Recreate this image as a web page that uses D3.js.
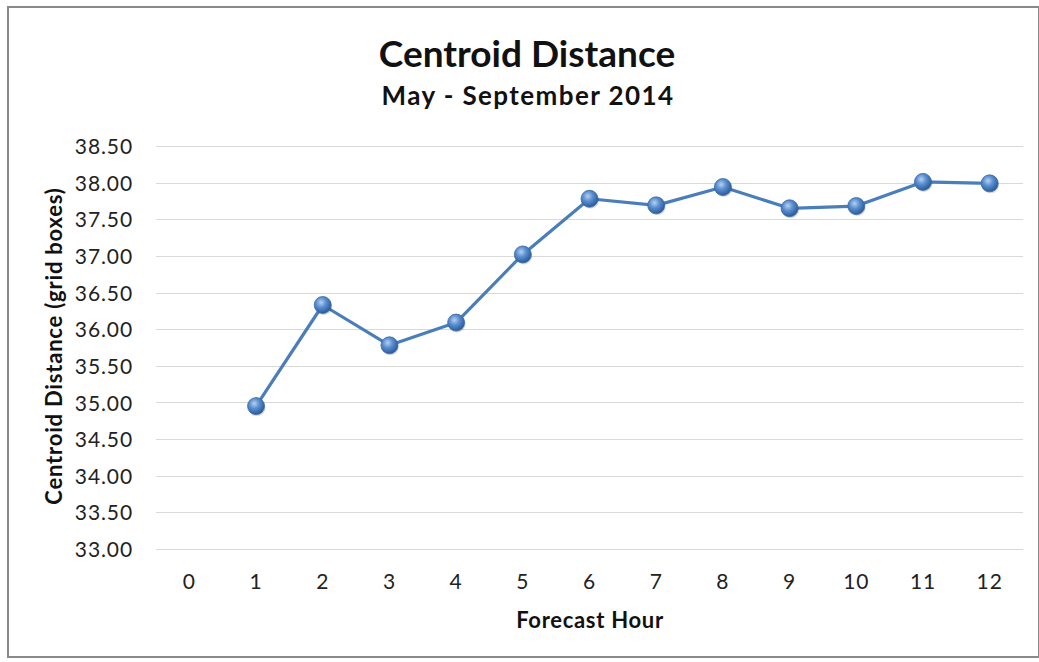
<!DOCTYPE html>
<html>
<head>
<meta charset="utf-8">
<script src="https://cdn.jsdelivr.net/npm/d3@7"></script>
<style>
  body { margin: 0; background: #fff; }
  svg { display: block; font-family: Lato, "Open Sans", sans-serif; }
</style>
</head>
<body>
<div id="chart"></div>
<script>
const width = 1039,
  height = 662,
  margin = { top: 146, right: 16, bottom: 113, left: 156 };

// chart data
const hours = [0, 1, 2, 3, 4, 5, 6, 7, 8, 9, 10, 11, 12];
const distance = [null, 34.95, 36.33, 35.78, 36.09, 37.02, 37.78, 37.69, 37.94, 37.65, 37.68, 38.01, 37.99];
const yTicks = [33.0, 33.5, 34.0, 34.5, 35.0, 35.5, 36.0, 36.5, 37.0, 37.5, 38.0, 38.5];

const title = 'Centroid Distance';
const subtitle = 'May - September 2014';
const xTitle = 'Forecast Hour';
const yTitle = 'Centroid Distance (grid boxes)';

const svg = d3.select('#chart')
  .append('svg')
  .attr('width', width)
  .attr('height', height);

// marker gradient
const defs = svg.append('defs');
const grad = defs.append('radialGradient')
  .attr('id', 'ball')
  .attr('cx', '40%').attr('cy', '35%').attr('r', '65%');
grad.append('stop').attr('offset', '0%').attr('stop-color', '#b7d0f0');
grad.append('stop').attr('offset', '45%').attr('stop-color', '#5a8fd0');
grad.append('stop').attr('offset', '100%').attr('stop-color', '#2a5a98');

// outer frame
svg.append('rect')
  .attr('x', 8).attr('y', 7)
  .attr('width', width - 8).attr('height', 650)
  .attr('fill', 'none')
  .attr('stroke', '#8a8a8a')
  .attr('stroke-width', 2);

const x = d3.scaleBand()
  .domain(hours)
  .range([margin.left, width - margin.right]);

const y = d3.scaleLinear()
  .domain([33, 38.5])
  .range([height - margin.bottom, margin.top]);

// gridlines
svg.append('g')
  .selectAll('line')
  .data(yTicks)
  .join('line')
  .attr('x1', margin.left)
  .attr('x2', width - margin.right)
  .attr('y1', d => Math.round(y(d)) + 0.5)
  .attr('y2', d => Math.round(y(d)) + 0.5)
  .attr('stroke', '#d9d9d9')
  .attr('stroke-width', 1.2);

// y axis labels
const yAxis = svg.append('g')
  .attr('transform', `translate(${margin.left - 23},0)`)
  .call(d3.axisLeft(y).tickValues(yTicks).tickFormat(d3.format('.2f')).tickSize(0).tickPadding(0));
yAxis.select('.domain').remove();
yAxis.selectAll('text')
  .attr('font-size', 21)
  .attr('letter-spacing', 0.9)
  .attr('dy', '0.36em')
  .attr('font-family', 'Lato, "Open Sans", sans-serif')
  .attr('fill', '#222');

// x axis labels
const xAxis = svg.append('g')
  .attr('transform', `translate(0,${height - margin.bottom + 40})`)
  .call(d3.axisBottom(x).tickSize(0).tickPadding(0));
xAxis.select('.domain').remove();
xAxis.selectAll('text')
  .attr('y', 0)
  .attr('dy', null)
  .attr('font-size', 21)
  .attr('letter-spacing', 0.9)
  .attr('font-family', 'Lato, "Open Sans", sans-serif')
  .attr('fill', '#222');

// line
const pts = hours.map((h, i) => ({ h: h, v: distance[i] })).filter(d => d.v !== null);
const line = d3.line()
  .x(d => x(d.h) + x.bandwidth() / 2)
  .y(d => y(d.v));

svg.append('path')
  .datum(pts)
  .attr('d', line)
  .attr('fill', 'none')
  .attr('stroke', '#4a7ebb')
  .attr('stroke-width', 3.2)
  .attr('stroke-linejoin', 'round');

// markers
const marks = svg.append('g');
marks.selectAll('circle.shadow')
  .data(pts)
  .join('circle')
  .attr('class', 'shadow')
  .attr('cx', d => x(d.h) + x.bandwidth() / 2 + 1)
  .attr('cy', d => y(d.v) + 1.5)
  .attr('r', 8.5)
  .attr('fill', '#000')
  .attr('opacity', 0.15);
marks.selectAll('circle.pt')
  .data(pts)
  .join('circle')
  .attr('class', 'pt')
  .attr('cx', d => x(d.h) + x.bandwidth() / 2)
  .attr('cy', d => y(d.v))
  .attr('r', 8.5)
  .attr('fill', 'url(#ball)')
  .attr('stroke', '#3a6aa8')
  .attr('stroke-width', 0.8);

// titles
svg.append('text')
  .attr('x', 527).attr('y', 67)
  .attr('text-anchor', 'middle')
  .attr('font-size', 37)
  .attr('font-weight', 'bold')
  .attr('fill', '#111')
  .text(title);

svg.append('text')
  .attr('x', 528).attr('y', 105)
  .attr('text-anchor', 'middle')
  .attr('font-size', 26)
  .attr('font-weight', 'bold')
  .attr('letter-spacing', 1.4)
  .attr('fill', '#111')
  .text(subtitle);

svg.append('text')
  .attr('x', 590)
  .attr('y', 628)
  .attr('text-anchor', 'middle')
  .attr('font-size', 22)
  .attr('font-weight', 'bold')
  .attr('letter-spacing', 0.7)
  .attr('fill', '#111')
  .text(xTitle);

svg.append('text')
  .attr('transform', `translate(62,346) rotate(-90)`)
  .attr('text-anchor', 'middle')
  .attr('font-size', 22)
  .attr('font-weight', 'bold')
  .attr('letter-spacing', 0.8)
  .attr('fill', '#111')
  .text(yTitle);
</script>
</body>
</html>
